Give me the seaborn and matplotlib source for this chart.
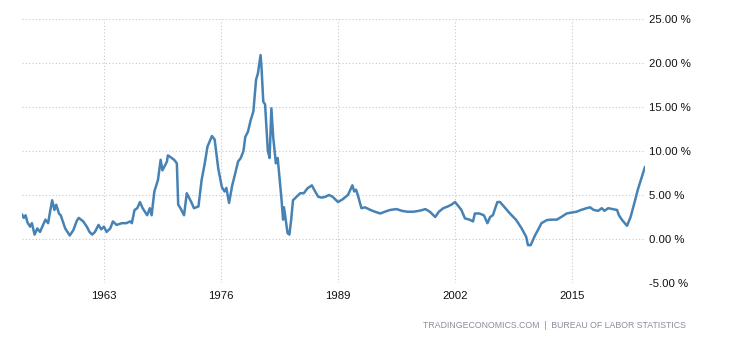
import seaborn as sns
import matplotlib
matplotlib.use("Agg")
import matplotlib.pyplot as plt
import pandas as pd

sns.set_theme(style="white")
plt.rcParams['font.family'] = ['Liberation Sans', 'DejaVu Sans']

# values (decimal year, % change)
years = [1953.9, 1954.1, 1954.3, 1954.5, 1954.8, 1955.0, 1955.3, 1955.6, 1955.9, 1956.2,
         1956.5, 1956.8, 1957.0, 1957.25, 1957.5, 1957.7, 1958.0, 1958.2, 1958.7, 1959.2,
         1959.6, 1960.0, 1960.2, 1960.7, 1961.1, 1961.4, 1961.7, 1962.0, 1962.4, 1962.7,
         1963.0, 1963.3, 1963.7, 1964.0, 1964.4, 1965.0, 1965.5, 1965.9, 1966.1, 1966.4,
         1966.7, 1967.0, 1967.3, 1967.8, 1968.1, 1968.3, 1968.6, 1969.0, 1969.3, 1969.5,
         1970.0, 1970.1, 1970.4, 1970.8, 1971.1, 1971.25, 1971.5, 1971.9, 1972.2, 1972.7,
         1973.0, 1973.5, 1973.85, 1974.2, 1974.5, 1975.0, 1975.3, 1975.7, 1976.1, 1976.4,
         1976.6, 1976.9, 1977.25, 1977.5, 1977.9, 1978.2, 1978.5, 1978.7, 1979.0, 1979.3,
         1979.6, 1979.9, 1980.1, 1980.4, 1980.5, 1980.7, 1980.9, 1981.2, 1981.4, 1981.6,
         1981.8, 1982.1, 1982.3, 1982.7, 1982.9, 1983.0, 1983.4, 1983.6, 1983.8, 1984.0,
         1984.4, 1984.8, 1985.2, 1985.6, 1986.1, 1986.3, 1986.8, 1987.2, 1987.6, 1988.0,
         1988.4, 1989.0, 1989.5, 1990.1, 1990.6, 1990.8, 1991.0, 1991.2, 1991.6, 1992.0,
         1992.6, 1993.1, 1993.7, 1994.2, 1994.8, 1995.5, 1996.1, 1996.7, 1997.4, 1998.0,
         1998.4, 1998.7, 1999.2, 1999.8, 2000.2, 2000.7, 2001.2, 2001.6, 2002.0, 2002.4,
         2002.7, 2003.1, 2003.6, 2004.0, 2004.2, 2004.7, 2005.2, 2005.6, 2005.9, 2006.2,
         2006.7, 2007.0, 2007.6, 2008.1, 2008.8, 2009.4, 2009.9, 2010.1, 2010.4, 2010.9,
         2011.2, 2011.6, 2012.2, 2012.7, 2013.3, 2013.8, 2014.4, 2014.9, 2015.5, 2016.0,
         2016.6, 2017.0, 2017.4, 2017.9, 2018.3, 2018.6, 2019.0, 2019.5, 2020.0, 2020.2,
         2020.6, 2021.1, 2021.5, 2022.0, 2022.3, 2022.7, 2023.1]
rates = [2.8, 2.4, 2.7, 1.9, 1.4, 1.8, 0.5, 1.2, 0.8, 1.5,
         2.2, 1.8, 3.0, 4.4, 3.3, 3.9, 2.9, 2.7, 1.2, 0.4,
         1.0, 2.1, 2.4, 2.0, 1.4, 0.8, 0.5, 0.8, 1.6, 1.1,
         1.4, 0.8, 1.2, 2.0, 1.6, 1.8, 1.8, 2.0, 1.8, 3.3,
         3.5, 4.2, 3.5, 2.7, 3.5, 2.7, 5.4, 6.7, 9.0, 7.8,
         8.8, 9.5, 9.3, 9.0, 8.6, 3.9, 3.5, 2.7, 5.2, 4.2,
         3.5, 3.7, 6.7, 8.6, 10.5, 11.7, 11.3, 8.0, 5.9, 5.4,
         5.8, 4.1, 6.1, 7.1, 8.8, 9.2, 10.0, 11.6, 12.2, 13.5,
         14.5, 18.1, 18.8, 20.9, 19.6, 15.6, 15.3, 10.1, 9.2, 14.85,
         11.6, 8.6, 9.2, 4.8, 2.2, 3.6, 0.65, 0.5, 2.2, 4.4,
         4.8, 5.2, 5.2, 5.75, 6.1, 5.7, 4.8, 4.7, 4.8, 5.0,
         4.8, 4.2, 4.5, 5.0, 6.1, 5.4, 5.6, 5.0, 3.5, 3.6,
         3.3, 3.1, 2.9, 3.1, 3.3, 3.4, 3.2, 3.1, 3.1, 3.2,
         3.3, 3.4, 3.1, 2.5, 3.1, 3.5, 3.7, 3.9, 4.2, 3.7,
         3.3, 2.35, 2.2, 2.0, 2.9, 2.9, 2.7, 1.8, 2.5, 2.7,
         4.2, 4.2, 3.5, 2.9, 2.15, 1.2, 0.25, -0.7, -0.7, 0.45,
         1.0, 1.8, 2.15, 2.2, 2.2, 2.5, 2.9, 3.0, 3.1, 3.3,
         3.5, 3.6, 3.3, 3.2, 3.5, 3.2, 3.5, 3.4, 3.3, 2.7,
         2.1, 1.5, 2.5, 4.4, 5.6, 6.9, 8.2]

year_ticks = [1963, 1976, 1989, 2002, 2015]
y_ticks = [-5, 0, 5, 10, 15, 20, 25]

df = pd.DataFrame({"year": years, "rate": rates})

fig = plt.figure(figsize=(7.3, 3.4), dpi=100)
ax = fig.add_axes([22 / 730, 57 / 340, 623 / 730, 264 / 340])

sns.lineplot(data=df, x="year", y="rate", ax=ax, color="#4682b4", linewidth=1.8)

ax.set_xlim(years[0], years[-1])
ax.set_ylim(-5, 25)
ax.set_xticks(year_ticks)
ax.set_xticklabels([str(y) for y in year_ticks])
ax.set_yticks(y_ticks)
ax.set_yticklabels([f"{v:.2f} %" for v in y_ticks])
ax.yaxis.tick_right()
ax.tick_params(axis="both", length=0, labelsize=8.2, colors="#111111")
ax.tick_params(axis="y", pad=3)
ax.tick_params(axis="x", pad=6)
ax.grid(True, linestyle=(0, (1, 2)), color="#c8c8c8", linewidth=0.8)
ax.set_xlabel("")
ax.set_ylabel("")
for s in ax.spines.values():
    s.set_visible(False)

fig.text(686 / 730, 1 - 325 / 340, "TRADINGECONOMICS.COM  |  BUREAU OF LABOR STATISTICS",
         ha="right", va="center", fontsize=6.3, color="#8c8c9c")

plt.savefig("out.png", dpi=100)
